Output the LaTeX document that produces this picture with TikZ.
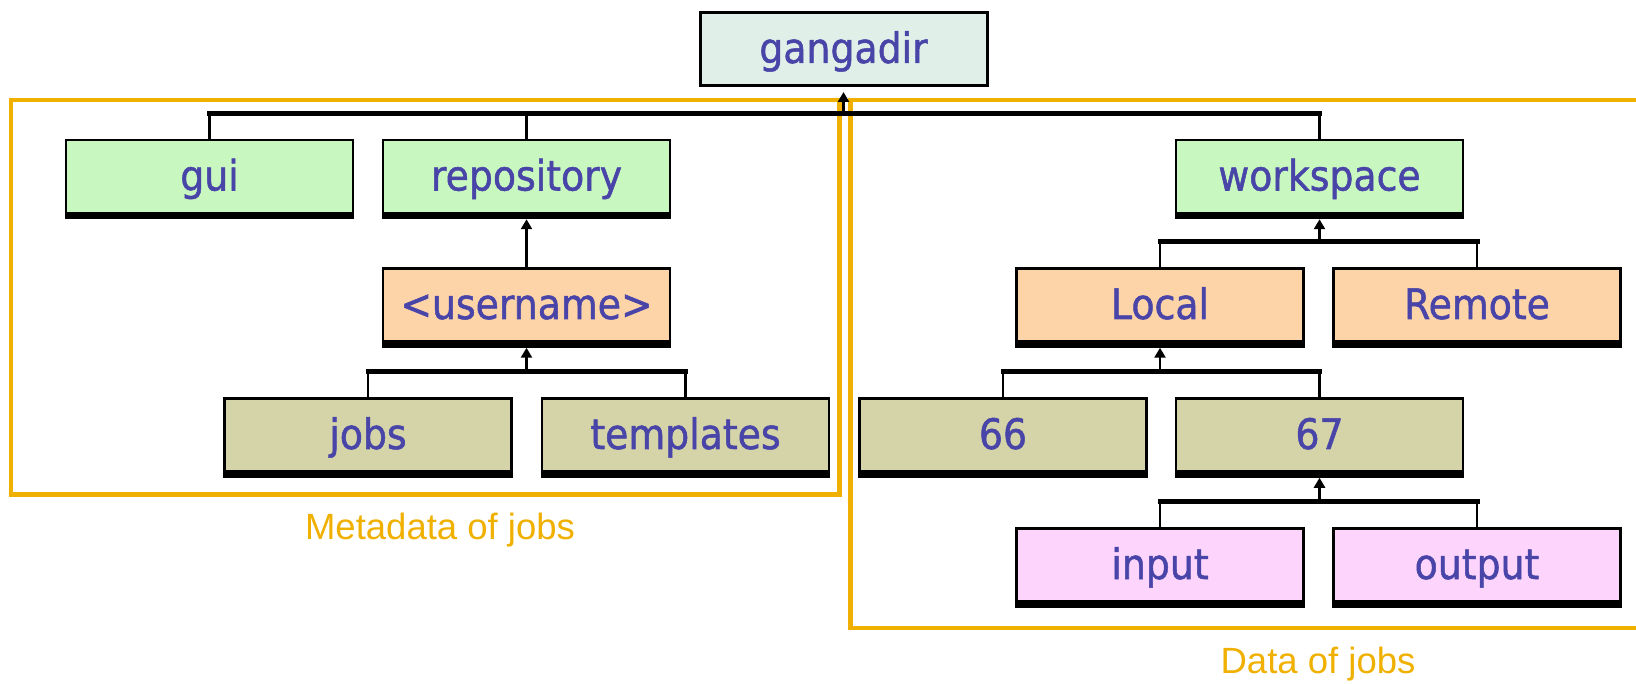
\documentclass[tikz,border=0pt]{standalone}
\usepackage{fontspec}
\setmainfont{Liberation Sans}
\newfontfamily\boxfont[FakeStretch=0.9,FakeBold=1.2]{DejaVu Sans}
\usetikzlibrary{arrows.meta}
\definecolor{txtblue}{RGB}{72,68,168}
\definecolor{frameor}{RGB}{240,176,0}
\definecolor{fmint}{RGB}{224,240,232}
\definecolor{fgreen}{RGB}{200,248,192}
\definecolor{forange}{RGB}{252,212,168}
\definecolor{folive}{RGB}{212,212,168}
\definecolor{fpink}{RGB}{252,212,252}
\begin{document}
\begin{tikzpicture}[x=1pt,y=-1pt,
  box/.style={draw=black,line width=2.5pt,minimum width=287pt,minimum height=73pt,inner sep=0pt,
    text height=30pt,text depth=2pt,
    font=\boxfont\fontsize{42}{46}\selectfont,text=txtblue},
  shadowline/.style={line width=6pt,black},
  barline/.style={line width=5pt,black,line cap=rect},
  vline/.style={line width=2.8pt,black},
  uparrow/.style={line width=2.8pt,black,-{Triangle[width=11pt,length=10pt]},shorten >=5pt},
  orframe/.style={draw=frameor,line width=4.5pt},
  lbl/.style={text=frameor,font=\fontsize{36.5}{40}\selectfont,inner sep=0pt}]
\useasboundingbox (0,0) rectangle (1636,684);

% frames
\draw[orframe] (11,100) rectangle (839.5,494.5);
\draw[orframe] (850.5,100) rectangle (1660,628);

% nodes
\node[box,fill=fmint,line width=3pt] (gangadir) at (843.5,49) {gangadir};
\node[box,fill=fgreen] (gui) at (209.5,176.5) {gui};
\node[box,fill=fgreen] (repository) at (526.5,176.5) {repository};
\node[box,fill=fgreen] (workspace) at (1319.5,176.5) {workspace};
\node[box,fill=forange] (username) at (526.5,305) {<username>};
\node[box,fill=forange] (local) at (1160,305) {Local};
\node[box,fill=forange] (remote) at (1477,305) {Remote};
\node[box,fill=folive] (jobs) at (368,435) {jobs};
\node[box,fill=folive] (templates) at (685.5,435) {templates};
\node[box,fill=folive] (n66) at (1003,435) {66};
\node[box,fill=folive] (n67) at (1319.5,435) {67};
\node[box,fill=fpink] (input) at (1160,565) {input};
\node[box,fill=fpink] (output) at (1477,565) {output};

% shadows
\foreach \n in {gui,repository,workspace,username,local,remote,jobs,templates,n66,n67,input,output}{
  \draw[shadowline] ([yshift=-2pt]\n.south west) -- ([yshift=-2pt]\n.south east);
}

% bar coordinates
\coordinate (b0) at (843.5,114);
\coordinate (b1) at (526.5,372);
\coordinate (b2) at (1319.5,242);
\coordinate (b3) at (1160,372);
\coordinate (b4) at (1319.5,501);

% gangadir
\draw[barline] (gui.north |- b0) -- (workspace.north |- b0);
\foreach \n in {gui,repository,workspace}{ \draw[vline] (\n.north |- b0) -- (\n.north); }
\draw[uparrow] (b0) -- (gangadir.south);

% repository -> username
\draw[uparrow] (username.north) -- (repository.south);

% username -> jobs, templates
\draw[barline] (jobs.north |- b1) -- (templates.north |- b1);
\foreach \n in {jobs,templates}{ \draw[vline] (\n.north |- b1) -- (\n.north); }
\draw[uparrow] (b1) -- (username.south);

% workspace -> local, remote
\draw[barline] (local.north |- b2) -- (remote.north |- b2);
\foreach \n in {local,remote}{ \draw[vline] (\n.north |- b2) -- (\n.north); }
\draw[uparrow] (b2) -- (workspace.south);

% local -> 66, 67
\draw[barline] (n66.north |- b3) -- (n67.north |- b3);
\foreach \n in {n66,n67}{ \draw[vline] (\n.north |- b3) -- (\n.north); }
\draw[uparrow] (b3) -- (local.south);

% 67 -> input, output
\draw[barline] (input.north |- b4) -- (output.north |- b4);
\foreach \n in {input,output}{ \draw[vline] (\n.north |- b4) -- (\n.north); }
\draw[uparrow] (b4) -- (n67.south);

% labels
\node[lbl] (meta) at (440,530) {Metadata of jobs};
\node[lbl] (data) at (1318,664) {Data of jobs};
\end{tikzpicture}
\end{document}
